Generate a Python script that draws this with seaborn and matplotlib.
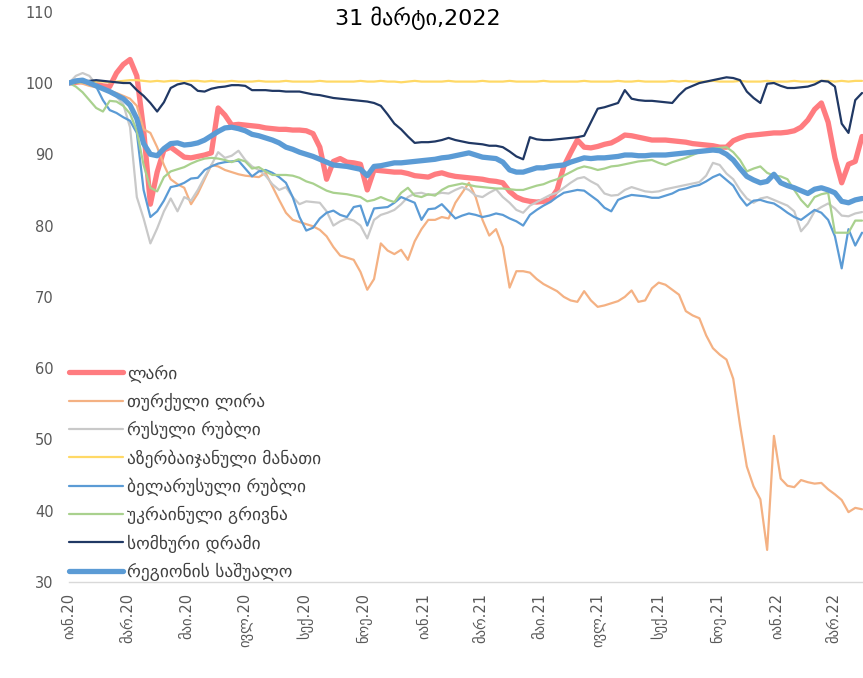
import matplotlib
matplotlib.use('Agg')
from matplotlib import pyplot as plt
import pandas as pd
import seaborn as sns

# weekly readings, index 2020-01-01 = 100
dates = pd.date_range('2020-01-01', '2022-03-31', freq='7D')

lari = [100.0, 100.1, 100.2, 100.0, 99.8, 99.6, 99.5, 101.4, 102.6, 103.3,
        101.0, 93.5, 83.0, 87.5, 90.6, 91.0, 90.3, 89.6, 89.5, 89.7,
        89.9, 90.2, 96.5, 95.5, 94.1, 94.2, 94.1, 94.0, 93.9, 93.7,
        93.6, 93.5, 93.5, 93.4, 93.4, 93.3, 92.9, 91.0, 86.5, 89.0,
        89.4, 88.9, 88.8, 88.6, 85.0, 87.8, 87.7, 87.6, 87.5, 87.5,
        87.3, 87.0, 86.9, 86.8, 87.2, 87.4, 87.1, 86.9, 86.8, 86.7,
        86.6, 86.5, 86.3, 86.2, 86.0, 84.8, 84.0, 83.6, 83.4, 83.3,
        83.4, 83.6, 85.0, 88.3, 90.2, 92.0, 91.0, 90.9, 91.1, 91.4,
        91.6, 92.1, 92.7, 92.6, 92.4, 92.2, 92.0, 92.0, 92.0, 91.9,
        91.8, 91.7, 91.5, 91.4, 91.3, 91.2, 91.0, 91.0, 91.9, 92.3,
        92.6, 92.7, 92.8, 92.9, 93.0, 93.0, 93.1, 93.3, 93.8, 94.8,
        96.3, 97.2, 94.5, 89.5, 86.0, 88.6, 89.0, 92.5]

lira = [100.0, 100.2, 99.9, 99.6, 99.4, 99.2, 98.9, 98.6, 98.2, 97.8,
        96.8, 93.5, 93.0, 91.0, 88.5, 86.5, 85.8, 85.3, 83.0, 84.5,
        86.5, 88.5, 88.3, 87.8, 87.5, 87.2, 87.0, 86.9, 86.8, 87.4,
        85.5, 83.6, 81.8, 80.8, 80.5, 80.2, 79.9, 79.4, 78.5, 77.0,
        75.8, 75.5, 75.2, 73.5, 71.0, 72.5, 77.5, 76.5, 76.0, 76.6,
        75.2, 77.8, 79.5, 80.8, 80.8, 81.2, 81.0, 83.2, 84.6, 86.0,
        84.0, 80.8, 78.6, 79.5, 77.0, 71.3, 73.6, 73.6, 73.4, 72.5,
        71.8, 71.3, 70.8, 70.0, 69.5, 69.3, 70.8, 69.5, 68.6, 68.8,
        69.1, 69.4, 70.0, 70.9, 69.3, 69.5, 71.2, 72.0, 71.7, 71.0,
        70.3, 68.0, 67.4, 67.0, 64.6, 62.8, 61.9, 61.2, 58.5, 52.0,
        46.2, 43.4, 41.6, 34.5, 50.5, 44.5, 43.5, 43.3, 44.3, 44.0,
        43.8, 43.9, 43.0, 42.3, 41.5, 39.8, 40.4, 40.2]

rub = [100.0, 101.0, 101.4, 101.0, 99.8, 99.2, 98.7, 98.1, 97.0, 93.8,
       84.0, 81.0, 77.5, 79.6, 82.0, 83.8, 82.0, 84.0, 83.5, 85.0,
       86.8, 88.5, 90.3, 89.5, 89.8, 90.5, 89.2, 88.3, 87.8, 87.0,
       85.8, 85.0, 85.4, 84.0, 83.0, 83.4, 83.3, 83.2, 82.0, 80.0,
       80.6, 81.0, 80.7, 80.0, 78.2, 80.8, 81.5, 81.8, 82.2, 83.0,
       84.0, 84.5, 84.6, 84.3, 84.4, 84.6, 84.5, 85.0, 85.4, 85.0,
       84.2, 84.0, 84.6, 85.1, 84.0, 83.2, 82.2, 81.8, 82.8, 83.3,
       83.8, 84.3, 84.6, 85.3, 86.0, 86.6, 86.8, 86.2, 85.7, 84.5,
       84.2, 84.3, 85.0, 85.4, 85.1, 84.8, 84.7, 84.8, 85.1, 85.3,
       85.5, 85.7, 85.9, 86.1, 87.0, 88.8, 88.5, 87.3, 86.5, 85.0,
       83.8, 83.2, 83.8, 84.0, 83.6, 83.2, 82.8, 82.0, 79.2, 80.3,
       82.0, 82.6, 83.1, 82.4, 81.4, 81.3, 81.7, 81.9]

manat = [100.0, 100.0, 100.1, 100.1, 100.2, 100.2, 100.1, 100.2, 100.3, 100.4,
         100.4, 100.3, 100.2, 100.3, 100.2, 100.3, 100.3, 100.2, 100.3, 100.3,
         100.2, 100.3, 100.2, 100.2, 100.3, 100.2, 100.2, 100.2, 100.3, 100.2,
         100.2, 100.2, 100.3, 100.2, 100.2, 100.2, 100.2, 100.3, 100.2, 100.2,
         100.2, 100.2, 100.2, 100.3, 100.2, 100.2, 100.3, 100.2, 100.2, 100.1,
         100.2, 100.3, 100.2, 100.2, 100.2, 100.2, 100.3, 100.2, 100.2, 100.2,
         100.2, 100.3, 100.2, 100.2, 100.2, 100.3, 100.2, 100.2, 100.2, 100.2,
         100.3, 100.2, 100.2, 100.2, 100.2, 100.2, 100.3, 100.2, 100.2, 100.2,
         100.2, 100.3, 100.2, 100.2, 100.3, 100.2, 100.2, 100.2, 100.2, 100.3,
         100.2, 100.3, 100.2, 100.2, 100.2, 100.3, 100.2, 100.2, 100.2, 100.3,
         100.2, 100.2, 100.2, 100.3, 100.2, 100.2, 100.2, 100.3, 100.2, 100.2,
         100.2, 100.3, 100.3, 100.2, 100.3, 100.2, 100.3, 100.3]

byn = [100.0, 100.2, 100.1, 99.9, 99.5, 97.6, 96.2, 95.8, 95.2, 94.7,
       93.0, 85.0, 81.2, 82.0, 83.5, 85.4, 85.6, 86.0, 86.6, 86.7,
       87.8, 88.3, 88.7, 88.9, 89.0, 89.1, 88.0, 86.9, 87.6, 87.8,
       87.4, 86.8, 86.0, 84.0, 81.2, 79.3, 79.7, 81.0, 81.8, 82.1,
       81.5, 81.2, 82.6, 82.8, 80.0, 82.4, 82.5, 82.6, 83.2, 84.0,
       83.6, 83.2, 80.8, 82.3, 82.4, 83.0, 82.0, 81.0, 81.4, 81.7,
       81.5, 81.2, 81.4, 81.7, 81.5, 81.0, 80.6, 80.0, 81.5, 82.2,
       82.8, 83.3, 84.0, 84.6, 84.8, 85.0, 84.9, 84.2, 83.5, 82.5,
       82.0, 83.6, 84.0, 84.3, 84.2, 84.1, 83.9, 83.9, 84.2, 84.5,
       85.0, 85.2, 85.5, 85.7, 86.2, 86.8, 87.2, 86.4, 85.6, 84.0,
       82.8, 83.5, 83.6, 83.3, 83.1, 82.5, 81.8, 81.2, 80.8, 81.5,
       82.2, 81.8, 80.8, 78.5, 74.0, 79.5, 77.2, 79.0]

uah = [100.0, 99.5, 98.7, 97.6, 96.5, 96.0, 97.5, 97.4, 96.8, 95.7,
       93.3, 88.5, 85.3, 84.8, 86.8, 87.6, 87.9, 88.2, 88.7, 89.1,
       89.4, 89.5, 89.4, 89.2, 88.9, 89.3, 89.0, 88.0, 88.2, 87.6,
       87.1, 87.1, 87.1, 87.0, 86.7, 86.2, 85.9, 85.4, 84.9, 84.6,
       84.5, 84.4, 84.2, 84.0, 83.4, 83.6, 84.0, 83.6, 83.3, 84.6,
       85.3, 84.2, 84.0, 84.4, 84.2, 85.0, 85.5, 85.7, 85.9, 85.7,
       85.5, 85.4, 85.3, 85.2, 85.2, 85.1, 85.0, 85.0, 85.3, 85.6,
       85.8, 86.2, 86.5, 87.0, 87.5, 88.0, 88.3, 88.1, 87.8, 88.0,
       88.3, 88.4, 88.6, 88.8, 89.0, 89.1, 89.2, 88.8, 88.5, 88.9,
       89.2, 89.5, 89.9, 90.3, 90.6, 90.8, 90.9, 91.0, 90.3, 89.2,
       87.6, 88.0, 88.3, 87.4, 87.0, 86.9, 86.5, 85.0, 83.6, 82.6,
       84.0, 84.4, 84.6, 79.0, 79.0, 79.0, 80.7, 80.7]

amd = [100.0, 100.1, 100.2, 100.3, 100.4, 100.3, 100.2, 100.1, 100.0, 100.0,
       99.0, 98.2, 97.2, 96.0, 97.3, 99.3, 99.8, 100.0, 99.7, 98.9,
       98.8, 99.2, 99.4, 99.5, 99.7, 99.7, 99.6, 99.0, 99.0, 99.0,
       98.9, 98.9, 98.8, 98.8, 98.8, 98.6, 98.4, 98.3, 98.1, 97.9,
       97.8, 97.7, 97.6, 97.5, 97.4, 97.2, 96.8, 95.6, 94.3, 93.5,
       92.5, 91.6, 91.7, 91.7, 91.8, 92.0, 92.3, 92.0, 91.8, 91.6,
       91.5, 91.4, 91.2, 91.2, 91.0, 90.4, 89.7, 89.3, 92.4, 92.1,
       92.0, 92.0, 92.1, 92.2, 92.3, 92.4, 92.6, 94.5, 96.4, 96.6,
       96.9, 97.2, 99.0, 97.8, 97.6, 97.5, 97.5, 97.4, 97.3, 97.2,
       98.3, 99.2, 99.6, 100.0, 100.2, 100.4, 100.6, 100.8, 100.7, 100.4,
       98.8, 97.9, 97.2, 99.9, 100.0, 99.6, 99.3, 99.3, 99.4, 99.5,
       99.8, 100.3, 100.2, 99.5, 94.3, 93.0, 97.6, 98.6]

region = [100.0, 100.3, 100.4, 100.0, 99.6, 99.2, 98.8, 98.3, 97.8, 96.9,
          95.0, 91.5, 90.0, 89.8, 90.8, 91.5, 91.6, 91.3, 91.4, 91.6,
          92.0, 92.6, 93.2, 93.7, 93.8, 93.6, 93.3, 92.8, 92.6, 92.3,
          92.0, 91.6, 91.0, 90.7, 90.3, 90.0, 89.7, 89.3, 88.9, 88.5,
          88.4, 88.3, 88.1, 87.9, 87.0, 88.3, 88.4, 88.6, 88.8, 88.8,
          88.9, 89.0, 89.1, 89.2, 89.3, 89.5, 89.6, 89.8, 90.0, 90.2,
          89.9, 89.6, 89.5, 89.4, 88.9, 87.8, 87.5, 87.5, 87.8, 88.1,
          88.1, 88.3, 88.4, 88.5, 88.9, 89.2, 89.5, 89.4, 89.5, 89.5,
          89.6, 89.7, 89.9, 89.9, 89.8, 89.8, 89.9, 89.9, 89.9, 90.0,
          90.1, 90.2, 90.3, 90.4, 90.5, 90.6, 90.5, 90.0, 89.2, 88.0,
          86.9, 86.4, 86.0, 86.2, 87.2, 86.0, 85.6, 85.3, 84.9, 84.5,
          85.1, 85.3, 85.0, 84.6, 83.4, 83.2, 83.6, 83.8]

names = ['ლარი', 'თურქული ლირა', 'რუსული რუბლი', 'აზერბაიჯანული მანათი',
         'ბელარუსული რუბლი', 'უკრაინული გრივნა', 'სომხური დრამი',
         'რეგიონის საშუალო']
values = [lari, lira, rub, manat, byn, uah, amd, region]
colors = ['#FF7C80', '#F4B183', '#C9C9C9', '#FFD966',
          '#5B9BD5', '#A9D18E', '#203864', '#5B9BD5']
widths = [3.8, 1.6, 1.6, 1.6, 1.6, 1.6, 1.6, 3.8]

tick_dates = pd.date_range('2020-01-01', '2022-03-01', freq='2MS')
tick_labels = ['იან.20', 'მარ.20', 'მაი.20', 'ივლ.20', 'სექ.20', 'ნოე.20',
               'იან.21', 'მარ.21', 'მაი.21', 'ივლ.21', 'სექ.21', 'ნოე.21',
               'იან.22', 'მარ.22']

sns.set_style('white')
plt.rcParams['font.family'] = ['DejaVu Sans']

fig = plt.figure(figsize=(8.63, 6.78), dpi=100)
ax = fig.add_axes([0.080, 0.1416, 0.920, 0.8411])

for name, vals, color, lw in zip(names, values, colors, widths):
    sns.lineplot(x=dates, y=vals, color=color, linewidth=lw, label=name,
                 ax=ax, solid_joinstyle='round')

ax.set_xlim(pd.Timestamp('2020-01-01'), pd.Timestamp('2022-03-31'))
ax.set_ylim(30, 110)
ax.set_yticks(range(30, 111, 10))
ax.set_xticks(tick_dates)
ax.set_xticklabels(tick_labels, rotation=90)
ax.set_xlabel('')
ax.set_ylabel('')
ax.tick_params(length=0, labelsize=10.5, colors='#595959')
ax.tick_params(axis='y', pad=11)
ax.tick_params(axis='x', pad=8)
for side in ['left', 'top', 'right']:
    ax.spines[side].set_visible(False)
ax.spines['bottom'].set_color('#D9D9D9')
ax.spines['bottom'].set_linewidth(1.0)

ax.legend(loc='upper left', bbox_to_anchor=(0.0, 0.3815), frameon=False,
          fontsize=12.5, labelcolor='#404040', handlelength=3.1,
          handletextpad=0.25, labelspacing=0.58, borderpad=0,
          borderaxespad=0)

fig.text(0.484, 0.973, '31 მარტი,2022', ha='center', va='center',
         fontsize=16, color='black')

fig.savefig('out.png', dpi=100)
